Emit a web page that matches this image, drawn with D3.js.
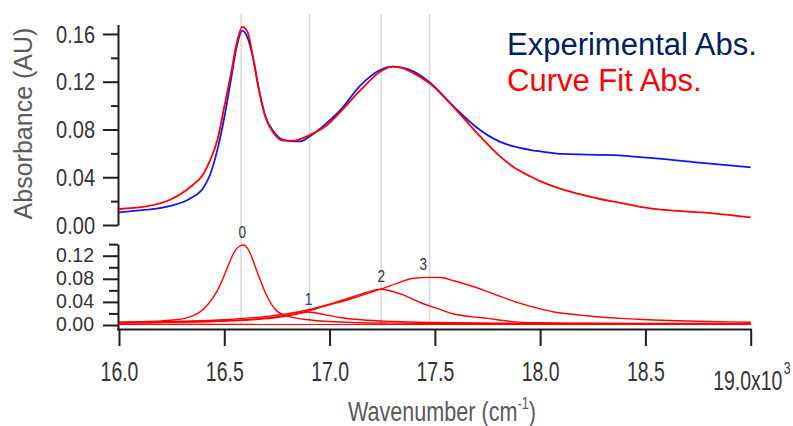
<!DOCTYPE html>
<html>
<head>
<meta charset="UTF-8">
<title>Absorbance curve fit</title>
<style>
  body { margin: 0; background: #fff; }
  text { font-family: "Liberation Sans", Arial, sans-serif; }
</style>
</head>
<body>
<script src="https://d3js.org/d3.v7.min.js"></script>
<script>
// ---- data (wavenumber in 10^3 cm-1, absorbance in AU) ----
var topWave = [16.00, 16.12, 16.24, 16.34, 16.40, 16.43, 16.47, 16.50, 16.53, 16.56, 16.585, 16.61, 16.635, 16.665,
               16.695, 16.735, 16.78, 16.83, 16.86, 16.92, 16.99, 17.05, 17.15, 17.24, 17.30, 17.35, 17.40, 17.48,
               17.59, 17.70, 17.80, 17.87, 17.95, 18.00, 18.11, 18.27, 18.35, 18.43, 18.55, 18.59, 18.74, 18.82, 19.00];
var expAbs = [0.0106, 0.0126, 0.0158, 0.0224, 0.0310, 0.0410, 0.0650, 0.0900, 0.1200, 0.1500, 0.1628, 0.1570, 0.1410, 0.1130,
              0.0910, 0.0780, 0.0712, 0.0700, 0.0700, 0.0760, 0.0860, 0.0960, 0.1175, 0.1298, 0.1326, 0.1315, 0.1284, 0.1187,
              0.0991, 0.0815, 0.0705, 0.0660, 0.0630, 0.0617, 0.0595, 0.0588, 0.0585, 0.0575, 0.0558, 0.0552, 0.0525, 0.0512, 0.0483];
var fitAbs = [0.0134, 0.0153, 0.0209, 0.0320, 0.0425, 0.0530, 0.0730, 0.0990, 0.1250, 0.1530, 0.1660, 0.1620, 0.1420, 0.1130,
              0.0907, 0.0768, 0.0706, 0.0706, 0.0720, 0.0765, 0.0840, 0.0945, 0.1135, 0.1284, 0.1326, 0.1312, 0.1270, 0.1180,
              0.0985, 0.0770, 0.0590, 0.0490, 0.0410, 0.0368, 0.0296, 0.0224, 0.0195, 0.0168, 0.0133, 0.0126, 0.0108, 0.0098, 0.0064];

// fitted components (lower panel)
var peak0Wave = [16.00, 16.10, 16.20, 16.26, 16.30, 16.34, 16.38, 16.42, 16.45, 16.48, 16.51, 16.53, 16.55, 16.57, 16.59,
                 16.61, 16.63, 16.66, 16.70, 16.75, 16.81, 16.91, 17.07, 17.30, 17.60, 18.00, 18.50, 19.00];
var peak0Abs = [0.0050, 0.0058, 0.0072, 0.0087, 0.0105, 0.0144, 0.0215, 0.0346, 0.0490, 0.0690, 0.0950, 0.1130, 0.1280, 0.1360, 0.1385,
                0.1330, 0.1180, 0.0880, 0.0520, 0.0240, 0.0144, 0.0087, 0.0048, 0.0032, 0.0025, 0.0020, 0.0018, 0.0016];
var peak1Wave = [16.00, 16.30, 16.50, 16.65, 16.75, 16.82, 16.87, 16.90, 16.93, 16.98, 17.05, 17.15, 17.30, 17.50, 17.80, 18.20, 18.60, 19.00];
var peak1Abs = [0.0038, 0.0050, 0.0068, 0.0095, 0.0130, 0.0175, 0.0212, 0.0225, 0.0212, 0.0175, 0.0130, 0.0090, 0.0060, 0.0042, 0.0032, 0.0026, 0.0023, 0.0021];
var peak2Wave = [16.00, 16.30, 16.50, 16.70, 16.80, 16.90, 17.00, 17.08, 17.15, 17.20, 17.245, 17.30, 17.35, 17.43, 17.50, 17.59,
                 17.67, 17.75, 17.83, 17.90, 18.00, 18.20, 18.50, 19.00];
var peak2Abs = [0.0045, 0.0065, 0.0090, 0.0150, 0.0195, 0.0265, 0.0360, 0.0450, 0.0535, 0.0590, 0.0620, 0.0580, 0.0520, 0.0390, 0.0300, 0.0190,
                0.0145, 0.0115, 0.0075, 0.0050, 0.0040, 0.0032, 0.0027, 0.0024];
var peak3Wave = [16.00, 16.30, 16.50, 16.70, 16.85, 17.00, 17.10, 17.20, 17.25, 17.32, 17.40, 17.48, 17.53, 17.59, 17.67, 17.75, 17.83,
                 17.905, 17.98, 18.06, 18.14, 18.22, 18.30, 18.38, 18.46, 18.54, 18.62, 18.70, 18.85, 19.00];
var peak3Abs = [0.0035, 0.0050, 0.0070, 0.0120, 0.0200, 0.0350, 0.0450, 0.0570, 0.0630, 0.0720, 0.0810, 0.0825, 0.0822, 0.0767, 0.0680, 0.0577, 0.0470,
                0.0375, 0.0300, 0.0230, 0.0190, 0.0161, 0.0135, 0.0115, 0.0100, 0.0087, 0.0078, 0.0069, 0.0057, 0.0047];
var baseWave = [16.00, 19.00];
var baseAbs = [0.0012, 0.0010];

var peakCenters = [16.58, 16.905, 17.245, 17.475];   // grey marker lines
var peakLabels = ["0", "1", "2", "3"];
var peakLabelWave = [16.585, 16.90, 17.245, 17.445];

var xTicks = [16.0, 16.5, 17.0, 17.5, 18.0, 18.5, 19.0];
var xTickLabels = ["16.0", "16.5", "17.0", "17.5", "18.0", "18.5", "19.0x10"];
var xExponent = "3";
var topMajor = [0.00, 0.04, 0.08, 0.12, 0.16];
var topMinor = [0.02, 0.06, 0.10, 0.14];
var botMajor = [0.00, 0.04, 0.08, 0.12];
var botMinor = [0.02, 0.06, 0.10, 0.14];
var legendLabels = ["Experimental Abs.", "Curve Fit Abs."];

// ---- canvas ----
var width = 793, height = 426;
var svg = d3.select("body").append("svg")
    .attr("width", width)
    .attr("height", height);

var x = d3.scaleLinear().domain([16, 19]).range([119, 750.7]);
var yTop = d3.scaleLinear().domain([0, 0.168]).range([225, 24.4]);
var yBot = d3.scaleLinear().domain([-0.007, 0.14]).range([329.04, 244.15]);

var axisColor = "#1e1e1e";
var labelColor = "#333";
var titleColor = "#5a5a5a";

// grey peak position markers
svg.append("g").selectAll("line").data(peakCenters).join("line")
    .attr("x1", d => x(d)).attr("x2", d => x(d))
    .attr("y1", 14).attr("y2", yBot(0))
    .attr("stroke", "#d9d9d9")
    .attr("stroke-width", 1.5);

// ---- axes ----
function thick(g) {
  g.selectAll("path, line").attr("stroke", axisColor).attr("stroke-width", 2);
}

var gTop = svg.append("g").attr("transform", "translate(118,0)")
    .call(d3.axisLeft(yTop).tickValues(topMajor).tickSizeInner(15).tickSizeOuter(0).tickFormat(d3.format(".2f")))
    .attr("font-size", 23).attr("font-family", null);
gTop.append("g")
    .call(d3.axisLeft(yTop).tickValues(topMinor).tickSize(7).tickFormat(""))
    .call(g => g.select(".domain").remove());
thick(gTop);
gTop.selectAll(".tick text")
    .attr("x", null).attr("dy", "0.35em").attr("fill", labelColor)
    .attr("transform", "translate(-23,0) scale(0.87,1)");

// lower panel labels are packed tightly, so a smaller size keeps them apart
var gBot = svg.append("g").attr("transform", "translate(118,0)")
    .call(d3.axisLeft(yBot).tickValues(botMajor).tickSizeInner(15).tickSizeOuter(0).tickFormat(d3.format(".2f")))
    .attr("font-size", 19.5).attr("font-family", null);
gBot.append("g")
    .call(d3.axisLeft(yBot).tickValues(botMinor).tickSize(9).tickFormat(""))
    .call(g => g.select(".domain").remove());
thick(gBot);
gBot.selectAll(".tick text")
    .attr("x", null).attr("dy", "0.35em").attr("fill", labelColor)
    .attr("transform", "translate(-24,-1)");

var gX = svg.append("g").attr("transform", "translate(0,329)")
    .call(d3.axisBottom(x).tickValues(xTicks).tickSizeInner(17).tickSizeOuter(0).tickFormat((d, i) => xTickLabels[i]))
    .attr("font-size", 27).attr("font-family", null);
thick(gX);
gX.select(".domain").attr("d", "M117,0.5H" + (x(19) + 1));
gX.selectAll(".tick text")
    .attr("y", null).attr("dy", null).attr("fill", labelColor)
    .attr("transform", "translate(0,52) scale(0.72,1)");
var lastLabel = gX.selectAll(".tick text").filter((d, i) => i === xTicks.length - 1)
    .attr("text-anchor", "start")
    .attr("transform", "translate(-38,61) scale(0.72,1)");
lastLabel.append("tspan").attr("font-size", 17).attr("dx", 2).attr("dy", -16).text(xExponent);

// axis titles
svg.append("text")
    .attr("transform", "translate(31.5,123.5) rotate(-90)")
    .attr("text-anchor", "middle")
    .attr("font-size", 25)
    .attr("fill", titleColor)
    .text("Absorbance (AU)");

var xt = svg.append("text")
    .attr("transform", "translate(442,421) scale(0.8,1)")
    .attr("text-anchor", "middle")
    .attr("font-size", 27)
    .attr("fill", titleColor);
xt.append("tspan").text("Wavenumber (cm");
xt.append("tspan").attr("font-size", 16).attr("dy", -12).text("-1");
xt.append("tspan").attr("dy", 12).text(")");

// ---- curves ----
var lineTop = d3.line().x(d => x(d[0])).y(d => yTop(d[1])).curve(d3.curveMonotoneX);
var lineBot = d3.line().x(d => x(d[0])).y(d => yBot(d[1])).curve(d3.curveMonotoneX);

svg.append("path").datum(d3.zip(topWave, expAbs))
    .attr("d", lineTop).attr("fill", "none")
    .attr("stroke", "#1414f0").attr("stroke-width", 1.8);
svg.append("path").datum(d3.zip(topWave, fitAbs))
    .attr("d", lineTop).attr("fill", "none")
    .attr("stroke", "#ff0000").attr("stroke-width", 1.8);

var components = [
  d3.zip(baseWave, baseAbs),
  d3.zip(peak0Wave, peak0Abs),
  d3.zip(peak1Wave, peak1Abs),
  d3.zip(peak2Wave, peak2Abs),
  d3.zip(peak3Wave, peak3Abs)
];
svg.append("g").selectAll("path").data(components).join("path")
    .attr("d", lineBot).attr("fill", "none")
    .attr("stroke", "#ff0000").attr("stroke-width", 1.4);

// peak number labels sit just above each component maximum
svg.append("g").selectAll("text").data(peakLabels).join("text")
    .attr("transform", (d, i) => "translate(" + x(peakLabelWave[i]) + "," +
          (yBot(d3.max(components[i + 1], p => p[1])) - 7) + ") scale(0.85,1)")
    .attr("text-anchor", "middle")
    .attr("font-size", 16)
    .attr("fill", (d, i) => i === 1 ? "#2b3f8f" : "#333")
    .text(d => d);

// ---- legend ----
svg.append("g").selectAll("text").data(legendLabels).join("text")
    .attr("x", 507)
    .attr("y", (d, i) => 55 + i * 36)
    .attr("font-size", 31)
    .attr("fill", (d, i) => i === 0 ? "#002060" : "#ff0000")
    .text(d => d);
</script>
</body>
</html>
